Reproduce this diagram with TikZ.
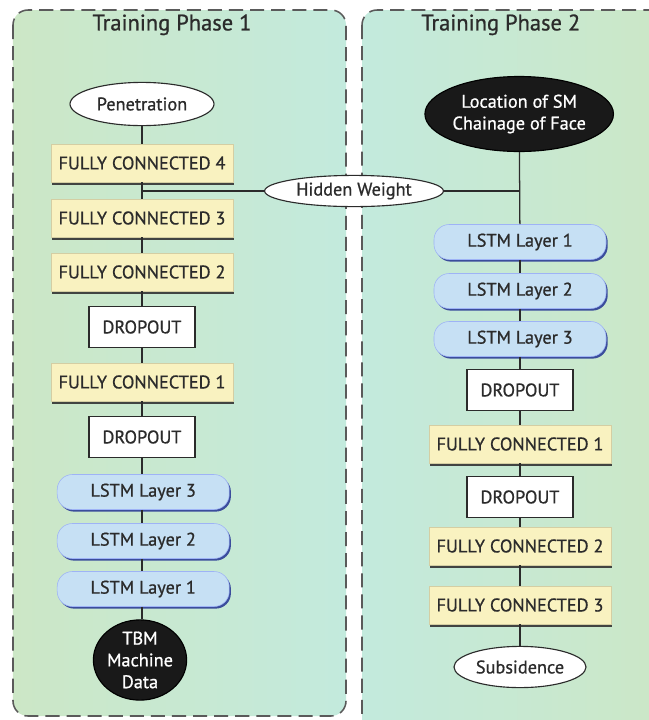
\documentclass[tikz,border=0pt]{standalone}
\usepackage{fontspec}
\setmainfont[FakeBold=0.8]{PT Sans}
\usetikzlibrary{positioning,shadows,shapes.geometric}
\definecolor{panelgreen}{HTML}{CCE7C6}
\definecolor{panelteal}{HTML}{C3EADD}
\definecolor{fccolor}{HTML}{F9F2C0}
\definecolor{lstmcolor}{HTML}{C6E0F4}
\definecolor{lstmedge}{HTML}{3B4D9C}
\definecolor{inkcolor}{HTML}{2B2B2B}
\definecolor{dashcolor}{HTML}{5A5A5A}

\begin{document}
\begin{tikzpicture}[
    panel/.style={
        rounded corners=0.375cm, draw=dashcolor, line width=1.1pt,
        dash pattern=on 10pt off 5pt
    },
    phasetitle/.style={
        font=\fontsize{16}{18}\selectfont, text=inkcolor
    },
    fcbox/.style={
        rectangle, minimum width=4.55cm, minimum height=0.95cm, inner sep=0pt,
        fill=fccolor, draw=fccolor!85!black, line width=0.3pt,
        font=\fontsize{13}{15}\selectfont, text=inkcolor,
        drop shadow={shadow xshift=0.8pt, shadow yshift=-1.8pt, fill=black!80, opacity=0.9}
    },
    lstmbox/.style={
        rectangle, rounded corners=0.38cm, minimum width=4.3cm, minimum height=0.875cm,
        inner sep=0pt, fill=lstmcolor, draw=lstmcolor!80!blue, line width=0.4pt,
        font=\fontsize{13}{15}\selectfont, text=inkcolor,
        drop shadow={shadow xshift=1.2pt, shadow yshift=-1.5pt, fill=lstmedge, opacity=1}
    },
    dropbox/.style={
        rectangle, minimum width=2.65cm, minimum height=1.02cm, inner sep=0pt,
        fill=white, draw=inkcolor, line width=0.8pt,
        font=\fontsize{13}{15}\selectfont, text=inkcolor
    },
    lightoval/.style={
        ellipse, inner sep=0pt, fill=white, draw=inkcolor, line width=0.8pt,
        font=\fontsize{13}{15}\selectfont, text=inkcolor
    },
    darkoval/.style={
        ellipse, inner sep=0pt, fill=black!90, draw=black, line width=0.8pt,
        align=center, font=\fontsize{13}{15.5}\selectfont, text=white
    },
    link/.style={
        draw=inkcolor, line width=0.9pt
    }
]

% Canvas
\clip (0, 0) rectangle (16.225, -18);
\fill[white] (0, 0) rectangle (16.225, -18);

% Panels
\shade[panel, left color=panelgreen, right color=panelteal] (0.325, -0.25) rectangle (8.65, -17.9);
\shade[panel, left color=panelteal, right color=panelgreen] (9.05, -0.25) rectangle (16.8, -18.5);
\node[phasetitle] (T1) at (4.3, -0.62) {Training Phase 1};
\node[phasetitle] (T2) at (12.52, -0.62) {Training Phase 2};

% Training phase 1 (top to bottom)
\node[lightoval, minimum width=3.6cm, minimum height=1.08cm] (pen) at (3.55, -2.6) {Penetration};
\node[fcbox] (fcA4) at (3.55, -4.075) {FULLY CONNECTED 4};
\node[fcbox] (fcA3) at (3.55, -5.45) {FULLY CONNECTED 3};
\node[fcbox] (fcA2) at (3.55, -6.8) {FULLY CONNECTED 2};
\node[dropbox] (doA2) at (3.55, -8.175) {DROPOUT};
\node[fcbox] (fcA1) at (3.55, -9.55) {FULLY CONNECTED 1};
\node[dropbox] (doA1) at (3.55, -10.925) {DROPOUT};
\node[lstmbox] (lsA3) at (3.58, -12.3) {LSTM Layer 3};
\node[lstmbox] (lsA2) at (3.58, -13.525) {LSTM Layer 2};
\node[lstmbox] (lsA1) at (3.58, -14.725) {LSTM Layer 1};
\node[darkoval, minimum width=2.25cm, minimum height=1.875cm] (tbm) at (3.5, -16.5) {TBM\\Machine\\Data};

% Training phase 2 (top to bottom)
\node[darkoval, minimum width=4.15cm, minimum height=1.875cm] (loc) at (12.98, -2.85) {Location of SM\\Chainage of Face};
\node[lstmbox] (lsB1) at (13.0, -6.05) {LSTM Layer 1};
\node[lstmbox] (lsB2) at (13.0, -7.275) {LSTM Layer 2};
\node[lstmbox] (lsB3) at (13.0, -8.475) {LSTM Layer 3};
\node[dropbox] (doB1) at (13.0, -9.75) {DROPOUT};
\node[fcbox] (fcB1) at (13.0, -11.1) {FULLY CONNECTED 1};
\node[dropbox] (doB2) at (13.0, -12.425) {DROPOUT};
\node[fcbox] (fcB2) at (13.0, -13.65) {FULLY CONNECTED 2};
\node[fcbox] (fcB3) at (13.0, -15.125) {FULLY CONNECTED 3};
\node[lightoval, minimum width=3.3cm, minimum height=1.03cm] (sub) at (13.0, -16.675) {Subsidence};

% Hidden weight bridge
\node[lightoval, minimum width=4.47cm, minimum height=0.78cm] (hw) at (8.85, -4.775) {Hidden Weight};
\coordinate (hwA) at (fcA4.south |- hw.west);
\coordinate (hwB) at (loc.south |- hw.east);

% Links
\draw[link] (pen) -- (fcA4);
\draw[link] (fcA4) -- (fcA3);
\draw[link] (fcA3) -- (fcA2);
\draw[link] (fcA2) -- (doA2);
\draw[link] (doA2) -- (fcA1);
\draw[link] (fcA1) -- (doA1);
\draw[link] (doA1) -- (lsA3.north -| doA1.south);
\draw[link] (lsA3.south -| doA1.south) -- (lsA2.north -| doA1.south);
\draw[link] (lsA2.south -| doA1.south) -- (lsA1.north -| doA1.south);
\draw[link] (lsA1.south -| doA1.south) -- (tbm.north -| doA1.south);
\draw[link] (loc) -- (lsB1);
\draw[link] (lsB1) -- (lsB2);
\draw[link] (lsB2) -- (lsB3);
\draw[link] (lsB3) -- (doB1);
\draw[link] (doB1) -- (fcB1);
\draw[link] (fcB1) -- (doB2);
\draw[link] (doB2) -- (fcB2);
\draw[link] (fcB2) -- (fcB3);
\draw[link] (fcB3) -- (sub);
\draw[link] (hwA) -- (hw);
\draw[link] (hw) -- (hwB);

\end{tikzpicture}
\end{document}
